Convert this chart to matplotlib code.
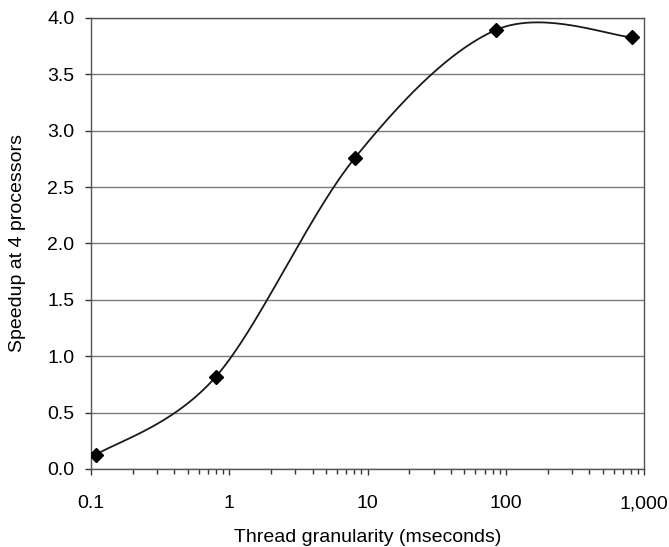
import matplotlib
matplotlib.use("Agg")
import matplotlib.pyplot as plt
import matplotlib.ticker as mticker
import numpy as np

# data
granularity = [0.108, 0.80, 8.05, 84.7, 818]
speedup = [0.124, 0.819, 2.756, 3.894, 3.829]
xtick_vals = [0.1, 1, 10, 100, 1000]
xtick_labels = ["0.1", "1", "10", "100", "1,000"]
ytick_vals = [0.0, 0.5, 1.0, 1.5, 2.0, 2.5, 3.0, 3.5, 4.0]

plt.rcParams["font.family"] = ["Liberation Sans", "DejaVu Sans"]


def smooth(xs, ys, n=60):
    # Catmull-Rom style smoothing (like a spreadsheet "smoothed line") on log-x
    u = np.log10(xs)
    v = np.asarray(ys, dtype=float)
    pts = np.column_stack([u, v])
    ext = np.vstack([pts[0], pts, pts[-1]])
    out = []
    for i in range(1, len(ext) - 2):
        p0, p1, p2, p3 = ext[i - 1], ext[i], ext[i + 1], ext[i + 2]
        c1 = p1 + (p2 - p0) / 6.0
        c2 = p2 - (p3 - p1) / 6.0
        t = np.linspace(0, 1, n)[:, None]
        seg = ((1 - t) ** 3) * p1 + 3 * ((1 - t) ** 2) * t * c1 + 3 * (1 - t) * t ** 2 * c2 + t ** 3 * p2
        out.append(seg)
    curve = np.vstack(out)
    return 10 ** curve[:, 0], curve[:, 1]


cx, cy = smooth(granularity, speedup)

fig = plt.figure(figsize=(6.69, 5.47), dpi=100)
ax = fig.add_axes([0.136, 0.1426, 0.827, 0.8245])

ax.plot(cx, cy, color="#1a1a1a", linewidth=1.3, zorder=3)
ax.plot(granularity, speedup, linestyle="none", marker="D", markersize=7,
        color="black", zorder=4)

ax.set_xscale("log")
ax.set_xlim(0.1, 1000)
ax.set_ylim(0, 4.0)
ax.set_xticks(xtick_vals)
ax.set_xticklabels(xtick_labels)
ax.xaxis.set_minor_locator(mticker.LogLocator(base=10, subs=np.arange(2, 10)))
ax.xaxis.set_minor_formatter(mticker.NullFormatter())
ax.set_yticks(ytick_vals)
ax.yaxis.set_major_formatter(mticker.FormatStrFormatter("%.1f"))

ax.yaxis.grid(True, color="#7a7a7a", linewidth=1.0)
ax.set_axisbelow(True)

for s in ax.spines.values():
    s.set_color("#555555")
    s.set_linewidth(1.0)

ax.tick_params(axis="x", which="major", direction="out", length=4, width=1,
               color="#333333", pad=15, labelsize=14)
ax.tick_params(axis="x", which="minor", direction="out", length=3.5, width=1,
               color="#333333")
ax.tick_params(axis="y", direction="out", length=4, width=1, color="#333333",
               pad=8, labelsize=14)

ax.set_xlabel("Thread granularity (mseconds)", fontsize=14, labelpad=12)
ax.set_ylabel("Speedup at 4 processors", fontsize=14, labelpad=15)

fig.savefig("out.png", dpi=100)
